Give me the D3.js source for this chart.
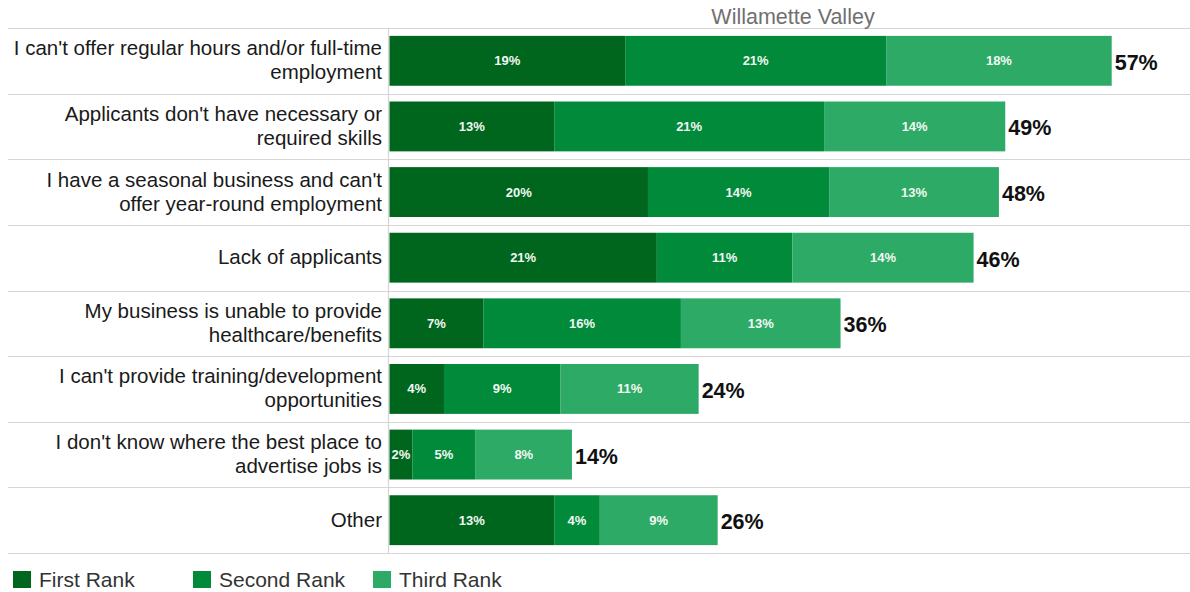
<!DOCTYPE html>
<html>
<head>
<meta charset="utf-8">
<script src="https://cdn.jsdelivr.net/npm/d3@7"></script>
<style>
  html, body { margin: 0; padding: 0; background: #fff; }
  svg { display: block; font-family: "Liberation Sans", Arial, sans-serif; }
</style>
</head>
<body>
<svg id="chart" width="1190" height="592"></svg>
<script>
// Survey: barriers to hiring, share of respondents ranking each reason 1st/2nd/3rd
const title = "Willamette Valley";

const categories = [
  ["I can't offer regular hours and/or full-time", "employment"],
  ["Applicants don't have necessary or", "required skills"],
  ["I have a seasonal business and can't", "offer year-round employment"],
  ["Lack of applicants"],
  ["My business is unable to provide", "healthcare/benefits"],
  ["I can't provide training/development", "opportunities"],
  ["I don't know where the best place to", "advertise jobs is"],
  ["Other"]
];

const seriesNames = ["First Rank", "Second Rank", "Third Rank"];
const firstRank  = [18.6, 13.0, 20.4, 21.1, 7.4, 4.3, 1.8, 13.0];
const secondRank = [20.6, 21.3, 14.3, 10.7, 15.6, 9.2, 5.0, 3.6];
const thirdRank  = [17.8, 14.3, 13.4, 14.3, 12.6, 10.9, 7.6, 9.3];
const colors = ["#00661e", "#008a3a", "#2daa66"];

const rows = categories.map((c, i) => ({
  key: i,
  label: c,
  values: [firstRank[i], secondRank[i], thirdRank[i]]
}));

const svg = d3.select("#chart");
const W = 1190;
const plotLeft = 389.5, plotTop = 28, plotBottom = 553;

const y = d3.scaleBand()
  .domain(rows.map(d => d.key))
  .range([plotTop, plotBottom])
  .paddingInner(0.24)
  .paddingOuter(0.12);

const x = d3.scaleLinear().domain([0, 60]).range([plotLeft, plotLeft + 760.2]);

const pct = v => d3.format(".0f")(v) + "%";

// Row separators
const step = y.step();
const bounds = d3.range(rows.length + 1).map(i => plotTop + i * step);
svg.append("g").selectAll("line").data(bounds).join("line")
  .attr("x1", 8).attr("x2", W)
  .attr("y1", d => Math.round(d) + 0.5).attr("y2", d => Math.round(d) + 0.5)
  .attr("stroke", "#d6d6d6").attr("stroke-width", 1.2);

// Divider between labels and bars
svg.append("line")
  .attr("x1", 388.5).attr("x2", 388.5)
  .attr("y1", plotTop).attr("y2", plotBottom)
  .attr("stroke", "#d6d6d6").attr("stroke-width", 1.2);

// Title
svg.append("text")
  .attr("x", 793).attr("y", 24)
  .attr("text-anchor", "middle")
  .attr("font-size", 21.5)
  .attr("fill", "#707070")
  .text(title);

// Stacked segments
const stack = d3.stack().keys([0, 1, 2]).value((d, k) => d.values[k]);
const stacked = stack(rows);

const layers = svg.append("g").selectAll("g").data(stacked).join("g")
  .attr("fill", (d, i) => colors[i]);

layers.selectAll("rect").data(d => d).join("rect")
  .attr("x", d => x(d[0]))
  .attr("y", d => y(d.data.key))
  .attr("width", d => x(d[1]) - x(d[0]))
  .attr("height", y.bandwidth());

layers.selectAll("text").data(d => d.map(s => ({ s, v: s[1] - s[0] }))).join("text")
  .attr("x", d => (x(d.s[0]) + x(d.s[1])) / 2)
  .attr("y", d => y(d.s.data.key) + y.bandwidth() / 2 + 4.5)
  .attr("text-anchor", "middle")
  .attr("font-size", 13)
  .attr("font-weight", "bold")
  .attr("fill", "#f2f8f2")
  .text(d => pct(d.v));

// Totals at bar ends
svg.append("g").selectAll("text").data(rows).join("text")
  .attr("x", d => x(d3.sum(d.values)) + 3)
  .attr("y", d => y(d.key) + y.bandwidth() / 2 + 9)
  .attr("font-size", 21.5)
  .attr("font-weight", "bold")
  .attr("fill", "#111")
  .text(d => pct(d3.sum(d.values)));

// Category labels
const lineH = 24;
const lab = svg.append("g").selectAll("text").data(rows).join("text")
  .attr("text-anchor", "end")
  .attr("font-size", 20.5)
  .attr("fill", "#1a1a1a");
lab.each(function(d) {
  const c = y(d.key) + y.bandwidth() / 2;
  const n = d.label.length;
  d3.select(this).selectAll("tspan").data(d.label).join("tspan")
    .attr("x", 382)
    .attr("y", (t, i) => c + 6.5 + (i - (n - 1) / 2) * lineH)
    .text(t => t);
});

// Legend
const legend = svg.append("g").selectAll("g").data(seriesNames).join("g")
  .attr("transform", (d, i) => `translate(${13 + i * 180},571)`);
legend.append("rect")
  .attr("width", 18).attr("height", 17)
  .attr("fill", (d, i) => colors[i]);
legend.append("text")
  .attr("x", 26).attr("y", 16)
  .attr("font-size", 21)
  .attr("fill", "#333")
  .text(d => d);
</script>
</body>
</html>
